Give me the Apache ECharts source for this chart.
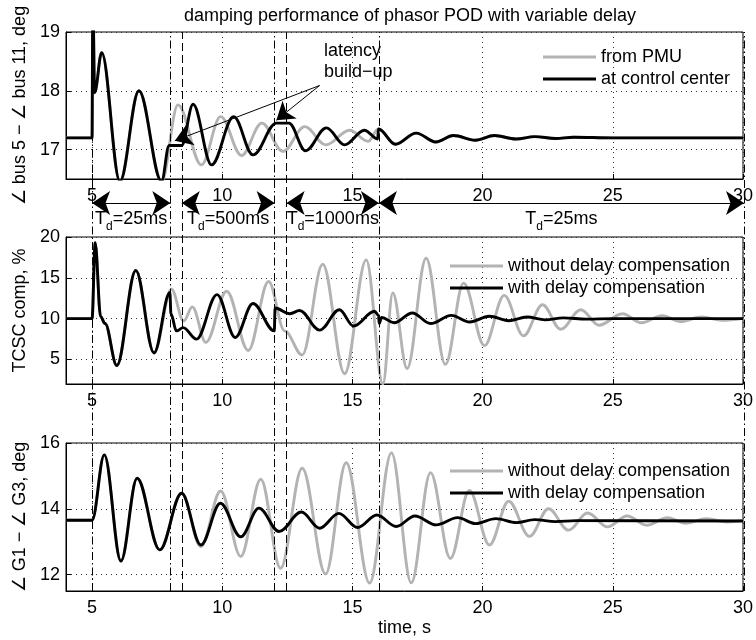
<!DOCTYPE html>
<html>
<head>
<meta charset="utf-8">
<script src="https://cdn.jsdelivr.net/npm/echarts@6/dist/echarts.min.js"></script>
<style>html,body{margin:0;padding:0;background:#fff}#main{width:756px;height:640px}</style>
</head>
<body>
<div id="main"></div>
<script>
// values: [time s, value] at peaks, troughs and corners
var pmuTop = [[4,17.2],[5,17.2],[5.03,19.6],[5.1,17.97],[5.37,18.65],[6.07,16.46],[6.8,18.0],[7.67,16.46],
  [8.3,17.76],[9.2,16.74],[9.94,17.56],[10.74,16.9],[11.52,17.45],[12.33,16.97],[13.17,17.39],[13.98,17.08],
  [14.89,17.33],[15.6,17.14],[16.0,17.35],[16.65,17.09],[17.45,17.28],[18.2,17.13],[18.88,17.24],[19.72,17.16],
  [20.45,17.24],[21.28,17.18],[22.0,17.22],[22.8,17.19],[23.5,17.21],[25,17.2],[30,17.2]];
var ccTop = [[4,17.2],[5,17.2],[5.03,19.6],[5.1,17.97],[5.37,18.65],[6.07,16.46],[6.8,18.0],[7.67,16.46],
  [7.96,17.07],[8.44,17.07],[8.88,17.77],[9.59,16.74],[10.44,17.56],[11.18,16.91],[12.08,17.45],[12.56,17.45],
  [13.2,16.98],[14.0,17.37],[14.7,17.08],[15.46,17.33],[15.97,17.18],[16.0,17.35],[16.65,17.09],[17.45,17.28],
  [18.2,17.13],[18.88,17.24],[19.72,17.16],[20.45,17.24],[21.28,17.18],[22.0,17.22],[22.8,17.19],[23.5,17.21],
  [25,17.2],[30,17.2]];

var woMid = [[4,10],[5,10],[5.12,19.3],[5.33,10.25],[5.5,9.4],[5.95,4.26],[6.68,15.9],[7.38,5.8],[8.05,13.6],
  [8.52,9.7],[8.85,11.45],[9.37,7.1],[10.17,13.35],[11.0,6.1],[11.78,14.55],[12.4,8.5],[13.07,5.55],[13.86,16.66],
  [14.7,3.26],[15.53,17.2],[16.17,2.0],[16.55,13.15],[17.1,3.9],[17.83,17.4],[18.57,4.4],[19.27,14.35],[20.07,6.7],
  [20.83,12.85],[21.57,7.9],[22.3,11.7],[23.0,8.7],[23.77,11.1],[24.47,9.2],[25.37,10.6],[26.1,9.5],[26.9,10.35],
  [27.6,9.65],[28.4,10.2],[29.2,9.8],[30,10.05]];
var wMid = [[4,10],[5,10],[5.12,19.3],[5.33,10.25],[5.5,9.4],[5.95,4.26],[6.68,15.9],[7.38,5.8],[7.99,13.2],
  [8.03,10.6],[8.24,8.5],[8.5,8.9],[9.01,7.5],[9.8,12.95],[10.5,7.7],[11.18,11.85],[12.0,8.5],[12.03,11.3],
  [12.6,10.6],[12.97,11.0],[13.74,8.6],[14.5,11.1],[15.04,9.1],[15.85,10.9],[16.0,10.4],[16.03,9.4],[16.12,10.15],
  [16.6,9.5],[17.3,10.7],[18.0,9.4],[18.8,10.4],[19.5,9.6],[20.26,10.3],[21.0,9.75],[21.7,10.2],[22.4,9.85],
  [23.1,10.1],[24,9.95],[25,10.0],[30,10.0]];

var woBot = [[4,13.65],[5,13.65],[5.47,15.64],[6.11,12.41],[6.73,14.93],[7.6,12.75],[8.44,14.47],[9.18,12.85],
  [9.94,14.54],[10.71,12.55],[11.48,14.9],[12.24,12.19],[13.07,15.23],[13.97,12.02],[14.76,15.4],[15.66,11.74],
  [16.5,15.7],[17.26,11.75],[18.0,15.1],[18.76,12.49],[19.49,14.56],[20.26,12.9],[21.0,14.23],[21.8,13.16],
  [22.53,14.0],[23.3,13.35],[24.03,13.87],[24.8,13.45],[25.55,13.78],[26.3,13.5],[27.1,13.73],[27.8,13.56],
  [28.6,13.7],[29.4,13.6],[30,13.65]];
var wBot = [[4,13.65],[5,13.65],[5.47,15.64],[6.11,12.41],[6.73,14.93],[7.6,12.75],[8.44,14.47],[9.18,12.9],
  [9.93,14.17],[10.71,13.15],[11.41,14.02],[12.18,13.31],[13.04,13.9],[13.74,13.41],[14.48,13.86],[15.2,13.43],
  [15.94,13.81],[16.68,13.46],[17.4,13.78],[18.22,13.51],[19.04,13.73],[19.72,13.55],[20.51,13.7],[21.3,13.58],
  [22.0,13.67],[22.8,13.61],[23.6,13.64],[30,13.63]];

// delay switching times and the delay in each span
var dashDotTimes = [5, 8, 12, 16, 30];
var dashTimes = [8.44, 12.46];
var delaySpans = [[5, 8, '25ms'], [8.44, 12, '500ms'], [12.46, 16, '1000ms'], [16, 30, '25ms']];
// latency build-up note: text anchor, arrow start, arrow tips
var noteAt = [13.89, 18.5];
var noteFrom = [13.74, 18.09];
var noteTips = [[8.18, 17.15], [12.08, 17.5]];

var FONT = '"Liberation Sans", Arial, Helvetica, sans-serif';
var GRAY = '#b3b3b3';

function xAx(i, name) {
    return {
        gridIndex: i, type: 'value', min: 4, max: 30, splitNumber: 5,
        axisLine: {show: true, lineStyle: {color: '#000', width: 1}},
        axisTick: {show: true, inside: true, length: 5, lineStyle: {color: '#000'}},
        axisLabel: {showMinLabel: false, showMaxLabel: true, color: '#000', fontSize: 18, fontFamily: FONT, margin: 8},
        splitLine: {show: true, lineStyle: {color: '#333', type: [1, 4], width: 1}},
        name: name || '', nameLocation: 'middle', nameGap: 28,
        nameTextStyle: {color: '#000', fontSize: 18, fontFamily: FONT}
    };
}
function yAx(i, min, max, split, name) {
    return {
        gridIndex: i, type: 'value', min: min, max: max, splitNumber: split,
        axisLine: {show: true, lineStyle: {color: '#000', width: 1}},
        axisTick: {show: true, inside: true, length: 5, lineStyle: {color: '#000'}},
        axisLabel: {showMinLabel: false, color: '#000', fontSize: 18, fontFamily: FONT, margin: 6},
        splitLine: {show: true, lineStyle: {color: '#333', type: [1, 4], width: 1}},
        name: name, nameLocation: 'middle', nameGap: 36,
        nameTextStyle: {color: '#000', fontSize: 18, fontFamily: FONT}
    };
}
function curve(name, idx, data, color) {
    return {
        name: name, type: 'line', xAxisIndex: idx, yAxisIndex: idx, data: data,
        symbol: 'none', smooth: 0.36, smoothMonotone: 'x',
        lineStyle: {color: color, width: 2.9}, itemStyle: {color: color},
        z: color === GRAY ? 2 : 3
    };
}
function legendAt(top, left, names) {
    return {
        data: names, orient: 'vertical', left: left, top: top, itemGap: 4,
        itemWidth: 53, itemHeight: 3, icon: 'rect',
        textStyle: {color: '#000', fontSize: 18, fontFamily: FONT}
    };
}

var chart = echarts.init(document.getElementById('main'));

var topCc = curve('at control center', 0, ccTop, '#000');
topCc.markLine = {
    silent: true, symbol: ['none', 'arrow'], symbolSize: 17,
    lineStyle: {color: '#000', width: 1, type: 'solid'}, label: {show: false},
    data: noteTips.map(function (t) { return [{coord: noteFrom}, {coord: t}]; })
};
topCc.markPoint = {
    silent: true, symbol: 'circle', symbolSize: 1, itemStyle: {color: 'transparent'},
    label: {show: true, position: 'right', distance: 0, color: '#000', fontSize: 18,
        fontFamily: FONT, lineHeight: 21, formatter: 'latency\nbuild\u2212up'},
    data: [{coord: noteAt}]
};

var lines = [];
dashDotTimes.forEach(function (t) { lines.push({xAxis: t, lineStyle: {type: [8, 3, 1.5, 3]}}); });
dashTimes.forEach(function (t) { lines.push({xAxis: t, lineStyle: {type: [8, 4]}}); });

var option = {
    animation: false,
    backgroundColor: '#fff',
    textStyle: {fontFamily: FONT},
    title: {
        text: 'damping performance of phasor POD with variable delay',
        left: 405, top: 2, textAlign: 'center',
        textStyle: {color: '#000', fontSize: 18, fontWeight: 'normal', fontFamily: FONT}
    },
    legend: [
        legendAt(43, 538, ['from PMU', 'at control center']),
        legendAt(252, 445, ['without delay compensation', 'with delay compensation']),
        legendAt(457, 445, ['without delay compensation', 'with delay compensation'])
    ],
    grid: [
        {left: 66, right: 12, top: 32, height: 147, show: true, borderColor: '#000', borderWidth: 1},
        {left: 66, right: 12, top: 237, height: 147, show: true, borderColor: '#000', borderWidth: 1},
        {left: 66, right: 12, top: 443, height: 148, show: true, borderColor: '#000', borderWidth: 1},
        {left: 66, right: 12, top: 32, height: 559},
        {left: 66, right: 12, top: 188, height: 30}
    ],
    xAxis: [
        xAx(0), xAx(1), xAx(2, 'time, s'),
        {gridIndex: 3, type: 'value', min: 4, max: 30, show: false},
        {gridIndex: 4, type: 'value', min: 4, max: 30, show: false}
    ],
    yAxis: [
        yAx(0, 16.5, 19, 2, '\u2220 bus 5 \u2212 \u2220 bus 11, deg'),
        yAx(1, 2, 20, 4, 'TCSC comp, %'),
        yAx(2, 11.5, 16, 2, '\u2220 G1 \u2212 \u2220 G3, deg'),
        {gridIndex: 3, type: 'value', min: 0, max: 1, show: false},
        {gridIndex: 4, type: 'value', min: 0, max: 1, show: false}
    ],
    series: [
        curve('from PMU', 0, pmuTop, GRAY),
        topCc,
        curve('without delay compensation', 1, woMid, GRAY),
        curve('with delay compensation', 1, wMid, '#000'),
        curve('without delay compensation', 2, woBot, GRAY),
        curve('with delay compensation', 2, wBot, '#000'),
        {
            type: 'line', xAxisIndex: 3, yAxisIndex: 3, data: [],
            markLine: {
                silent: true, symbol: 'none', label: {show: false},
                lineStyle: {color: '#000', width: 1}, data: lines
            }
        },
        {
            type: 'line', xAxisIndex: 4, yAxisIndex: 4, data: [],
            markLine: {
                silent: true, symbol: ['arrow', 'arrow'], symbolSize: 18,
                lineStyle: {color: '#000', width: 1, type: 'solid'},
                label: {
                    show: true, position: 'insideMiddleBottom', distance: 2, color: '#000',
                    formatter: function (p) { return '{t|T}{d|d}{t|=' + p.name + '}'; },
                    rich: {
                        t: {fontSize: 18, fontFamily: FONT, color: '#000'},
                        d: {fontSize: 12, fontFamily: FONT, color: '#000', padding: [16, 0, 0, 0]}
                    }
                },
                data: delaySpans.map(function (s) {
                    return [{coord: [s[0], 0.5], name: s[2]}, {coord: [s[1], 0.5]}];
                })
            }
        }
    ]
};
chart.setOption(option);
</script>
</body>
</html>
